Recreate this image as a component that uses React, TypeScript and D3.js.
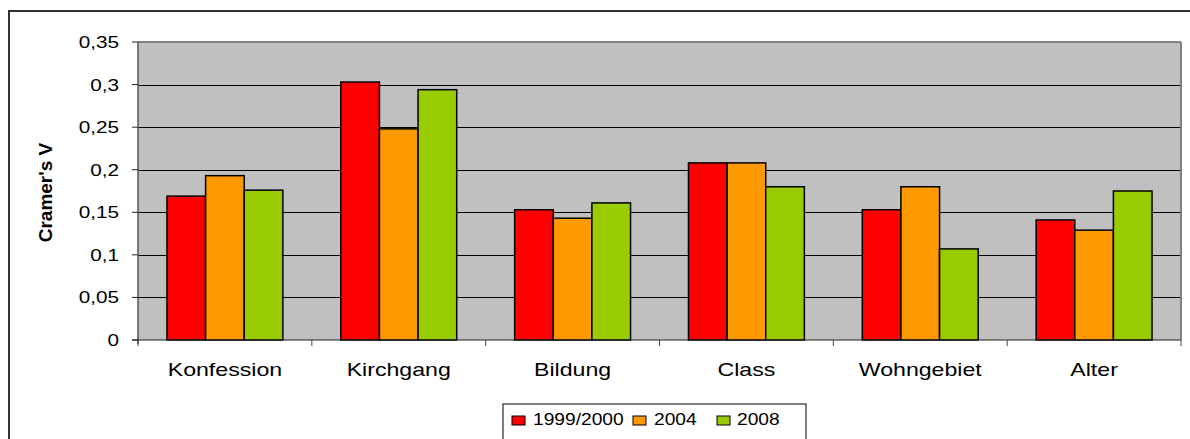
import React from "react";
import * as d3 from "d3";

const categories = ["Konfession", "Kirchgang", "Bildung", "Class", "Wohngebiet", "Alter"];
const seriesNames = ["1999/2000", "2004", "2008"];
const seriesColors = ["#FF0000", "#FF9900", "#99CC00"];
const values1999 = [0.169, 0.303, 0.153, 0.208, 0.153, 0.141];
const values2004 = [0.193, 0.248, 0.143, 0.208, 0.18, 0.129];
const values2008 = [0.176, 0.294, 0.161, 0.18, 0.107, 0.175];
const yTicks = [0, 0.05, 0.1, 0.15, 0.2, 0.25, 0.3, 0.35];
const yTickLabels = ["0", "0,05", "0,1", "0,15", "0,2", "0,25", "0,3", "0,35"];
const seriesValues = [values1999, values2004, values2008];

export default function App() {
  const W = 1190, H = 439;
  const left = 138, right = 1181, top = 42, bottom = 340;
  const x = d3.scaleBand<string>().domain(categories).range([left, right]).padding(0);
  const y = d3.scaleLinear().domain([0, 0.35]).range([bottom, top]);
  const bw = x.bandwidth() / 4.5;
  const inner = d3.scaleBand<number>().domain([0, 1, 2]).range([0, 3 * bw]).padding(0);
  const font = "Arial, 'Liberation Sans', sans-serif";
  const legendItems = [
    { sq: 512, tx: 533 },
    { sq: 633, tx: 654 },
    { sq: 717, tx: 737 },
  ];
  return (
    <svg width={W} height={H} style={{ position: "absolute", left: 0, top: 0, background: "#fff" }}>
      <rect x={9} y={11} width={1200} height={450} fill="#fff" stroke="#333" strokeWidth={2} />
      <rect x={left} y={top} width={right - left} height={bottom - top} fill="#C0C0C0" />
      {yTicks.slice(1, -1).map((t) => (
        <line key={t} x1={left} x2={right} y1={Math.round(y(t)) + 0.5} y2={Math.round(y(t)) + 0.5} stroke="#000" strokeWidth={1} />
      ))}
      <line x1={left} x2={right} y1={top} y2={top} stroke="#808080" strokeWidth={2} />
      <line x1={right} x2={right} y1={top} y2={bottom} stroke="#808080" strokeWidth={2} />
      {categories.map((c, ci) =>
        seriesValues.map((vals, si) => {
          const x0 = (x(c) as number) + 0.75 * bw + (inner(si) as number);
          return (
            <rect key={c + si} x={x0} y={y(vals[ci])} width={bw} height={bottom - y(vals[ci])}
              fill={seriesColors[si]} stroke="#000" strokeWidth={1.5} />
          );
        })
      )}
      <line x1={left} x2={left} y1={top} y2={bottom + 4} stroke="#555" strokeWidth={1.5} />
      <line x1={left - 6} x2={right} y1={bottom} y2={bottom} stroke="#222" strokeWidth={1.2} />
      {yTicks.map((t, i) => (
        <g key={t}>
          <line x1={left - 6} x2={left} y1={y(t)} y2={y(t)} stroke="#222" strokeWidth={1} />
          <text transform={`translate(119,${y(t) + 6}) scale(1.22,1)`} textAnchor="end"
            fontFamily={font} fontSize={17} fill="#000">{yTickLabels[i]}</text>
        </g>
      ))}
      {categories.map((c) => (
        <line key={"t" + c} x1={x(c) as number} x2={x(c) as number}
          y1={bottom} y2={bottom + 6} stroke="#444" strokeWidth={1} />
      ))}
      <line x1={right} x2={right} y1={bottom} y2={bottom + 6} stroke="#444" strokeWidth={1} />
      {categories.map((c) => (
        <text key={"l" + c} transform={`translate(${(x(c) as number) + x.bandwidth() / 2},375.5) scale(1.25,1)`}
          textAnchor="middle" fontFamily={font} fontSize={18.5} fill="#000">{c}</text>
      ))}
      <text transform={`translate(52,192.5) rotate(-90)`} textAnchor="middle"
        fontFamily={font} fontSize={19} fontWeight="bold" fill="#000">Cramer's V</text>
      <rect x={503} y={404} width={303} height={40} fill="#fff" stroke="#000" strokeWidth={1} />
      {seriesNames.map((s, i) => (
        <g key={s}>
          <rect x={legendItems[i].sq} y={416} width={13} height={9} fill={seriesColors[i]} stroke="#000" strokeWidth={1} />
          <text transform={`translate(${legendItems[i].tx},424.5) scale(1.2,1)`} fontFamily={font}
            fontSize={16} fill="#000">{s}</text>
        </g>
      ))}
    </svg>
  );
}
